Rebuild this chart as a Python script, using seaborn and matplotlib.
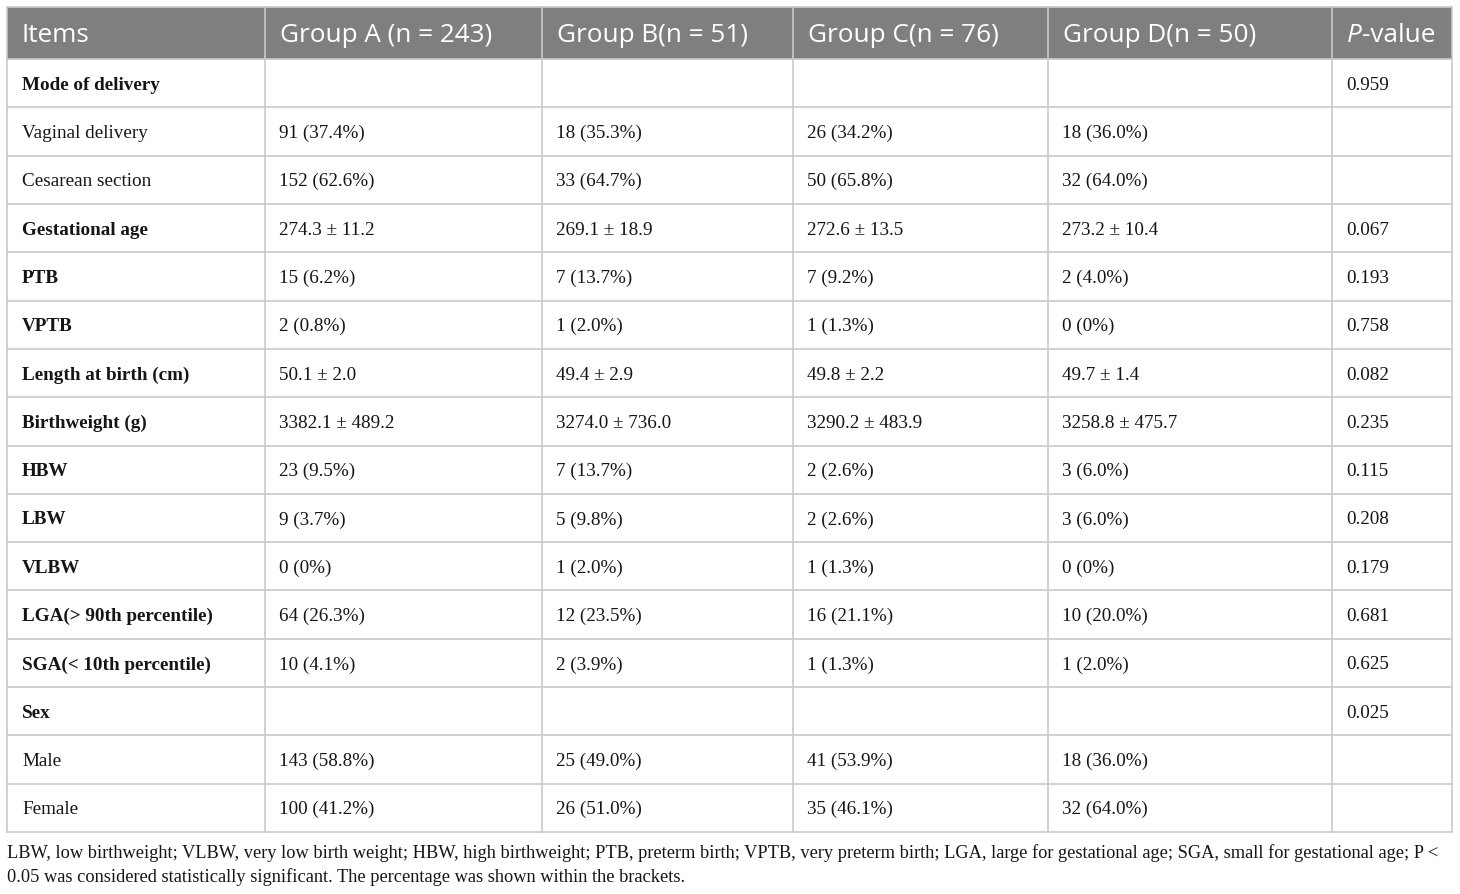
import matplotlib
matplotlib.use("Agg")
import matplotlib.pyplot as plt
import seaborn as sns
from matplotlib.patches import Rectangle

# ---------------- data ----------------
headers = ["Items", "Group A (n = 243)", "Group B(n = 51)", "Group C(n = 76)",
           "Group D(n = 50)", "P-value"]

items = ["Mode of delivery", "Vaginal delivery", "Cesarean section", "Gestational age",
         "PTB", "VPTB", "Length at birth (cm)", "Birthweight (g)", "HBW", "LBW", "VLBW",
         "LGA(> 90th percentile)", "SGA(< 10th percentile)", "Sex", "Male", "Female"]
item_bold = [True, False, False, True, True, True, True, True, True, True, True,
             True, True, True, False, False]

group_a = ["", "91 (37.4%)", "152 (62.6%)", "274.3 ± 11.2", "15 (6.2%)", "2 (0.8%)",
           "50.1 ± 2.0", "3382.1 ± 489.2", "23 (9.5%)", "9 (3.7%)", "0 (0%)",
           "64 (26.3%)", "10 (4.1%)", "", "143 (58.8%)", "100 (41.2%)"]
group_b = ["", "18 (35.3%)", "33 (64.7%)", "269.1 ± 18.9", "7 (13.7%)", "1 (2.0%)",
           "49.4 ± 2.9", "3274.0 ± 736.0", "7 (13.7%)", "5 (9.8%)", "1 (2.0%)",
           "12 (23.5%)", "2 (3.9%)", "", "25 (49.0%)", "26 (51.0%)"]
group_c = ["", "26 (34.2%)", "50 (65.8%)", "272.6 ± 13.5", "7 (9.2%)", "1 (1.3%)",
           "49.8 ± 2.2", "3290.2 ± 483.9", "2 (2.6%)", "2 (2.6%)", "1 (1.3%)",
           "16 (21.1%)", "1 (1.3%)", "", "41 (53.9%)", "35 (46.1%)"]
group_d = ["", "18 (36.0%)", "32 (64.0%)", "273.2 ± 10.4", "2 (4.0%)", "0 (0%)",
           "49.7 ± 1.4", "3258.8 ± 475.7", "3 (6.0%)", "3 (6.0%)", "0 (0%)",
           "10 (20.0%)", "1 (2.0%)", "", "18 (36.0%)", "32 (64.0%)"]
p_values = ["0.959", "", "", "0.067", "0.193", "0.758", "0.082", "0.235", "0.115",
            "0.208", "0.179", "0.681", "0.625", "0.025", "", ""]

footnote = ["LBW, low birthweight; VLBW, very low birth weight; HBW, high birthweight; "
            "PTB, preterm birth; VPTB, very preterm birth; LGA, large for gestational age; "
            "SGA, small for gestational age; P <",
            "0.05 was considered statistically significant. The percentage was shown "
            "within the brackets."]

# ---------------- style / layout ----------------
sns.set_theme(style="white")
plt.rcParams["font.family"] = ["Liberation Serif", "DejaVu Serif"]

W, H = 1460, 895
fig = plt.figure(figsize=(W / 100, H / 100), dpi=100)
ax = fig.add_axes([0, 0, 1, 1])
ax.set_xlim(0, W)
ax.set_ylim(H, 0)
ax.axis("off")

col_edges = [7, 265, 542, 793, 1048, 1332, 1452]
head_top, head_bot = 8, 60
table_bot = 833
n_rows = len(items)
row_h = (table_bot - head_bot) / n_rows
pad = 15

header_bg = "#7f7f7f"
grid_c = "#c9c9c9"
text_c = "#151515"
head_font = "Open Sans"
head_size = 18.8
body_size = 13.8
foot_size = 13.2

# header band
ax.add_patch(Rectangle((col_edges[0], head_top), col_edges[-1] - col_edges[0],
                       head_bot - head_top, facecolor=header_bg, edgecolor="none", zorder=1))

# grid lines
for i in range(n_rows + 1):
    y = head_bot + i * row_h
    ax.plot([col_edges[0], col_edges[-1]], [y, y], color=grid_c, lw=1.2, zorder=2)
ax.plot([col_edges[0], col_edges[-1]], [head_top, head_top], color=grid_c, lw=1.2, zorder=2)
for x in col_edges:
    ax.plot([x, x], [head_top, table_bot], color=grid_c, lw=1.2, zorder=2)

# header text
hy = (head_top + head_bot) / 2 + 1
for j, h in enumerate(headers[:-1]):
    ax.text(col_edges[j] + pad, hy, h, color="white", fontsize=head_size,
            family=head_font, va="center", ha="left", zorder=3)
# P-value header with italic P
px = col_edges[5] + pad
tp = ax.text(px, hy, "P", color="white", fontsize=head_size, family=head_font,
             style="italic", va="center", ha="left", zorder=3)
fig.canvas.draw()
bb = tp.get_window_extent(renderer=fig.canvas.get_renderer())
ax.text(px + bb.width, hy, headers[-1][1:], color="white", fontsize=head_size,
        family=head_font, va="center", ha="left", zorder=3)

# body
columns = [group_a, group_b, group_c, group_d, p_values]
for i in range(n_rows):
    yc = head_bot + (i + 0.5) * row_h + 1
    ax.text(col_edges[0] + pad, yc, items[i], fontsize=body_size, color=text_c,
            fontweight="bold" if item_bold[i] else "normal", va="center", ha="left")
    for j, col in enumerate(columns):
        if col[i]:
            ax.text(col_edges[j + 1] + pad - 1, yc, col[i], fontsize=body_size, color=text_c,
                    va="center", ha="left")

# footnote
for k, line in enumerate(footnote):
    ax.text(col_edges[0], 853 + k * 24.5, line, fontsize=foot_size, color=text_c,
            va="center", ha="left")

fig.savefig("out.png", dpi=100, facecolor="white")
